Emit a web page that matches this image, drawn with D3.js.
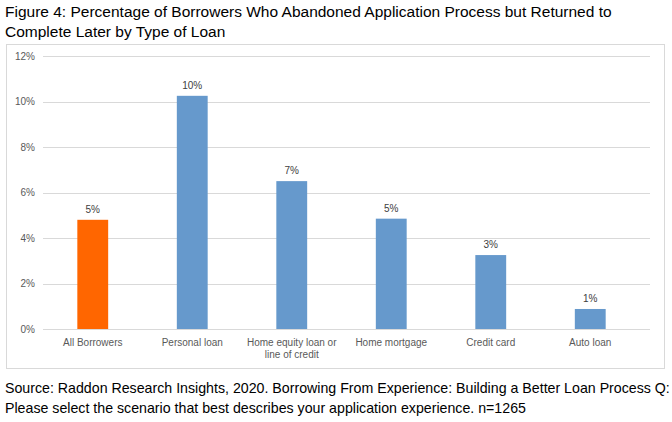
<!DOCTYPE html><html><head><script src="https://d3js.org/d3.v7.min.js"></script>
<style>body{margin:0;background:#fff}</style></head><body><svg id="c" width="672" height="422"></svg>
<script>
const categories=[["All Borrowers"],["Personal loan"],["Home equity loan or","line of credit"],["Home mortgage"],["Credit card"],["Auto loan"]];
const values=[4.8,10.25,6.5,4.85,3.25,0.88];
const labels=["5%","10%","7%","5%","3%","1%"];
const ticks=[0,2,4,6,8,10,12];
const svg=d3.select("#c");
const f="Arial, 'Liberation Sans', sans-serif";
svg.append("text").attr("x",5).attr("y",17).attr("font-family",f).attr("font-size",15.5).attr("fill","#000").text("Figure 4: Percentage of Borrowers Who Abandoned Application Process but Returned to");
svg.append("text").attr("x",5).attr("y",37).attr("font-family",f).attr("font-size",15.5).attr("fill","#000").text("Complete Later by Type of Loan");
svg.append("rect").attr("x",6.5).attr("y",44.5).attr("width",658).attr("height",324).attr("fill","none").attr("stroke","#d9d9d9");
const x=d3.scaleBand().domain(d3.range(6)).range([43,640]).paddingInner(0.69).paddingOuter(0.345);
const y=d3.scaleLinear().domain([0,12]).range([329,56]);
const g=svg.append("g");
ticks.forEach(t=>{g.append("line").attr("x1",43).attr("x2",650).attr("y1",Math.round(y(t))+0.5).attr("y2",Math.round(y(t))+0.5).attr("stroke","#d9d9d9");
g.append("text").attr("x",35).attr("y",y(t)+3.5).attr("text-anchor","end").attr("font-family",f).attr("font-size",10).attr("fill","#595959").text(t+"%");});
values.forEach((v,i)=>{
g.append("rect").attr("x",x(i)).attr("width",x.bandwidth()).attr("y",y(v)).attr("height",y(0)-y(v)).attr("fill",i==0?"#ff6600":"#6699cc");
g.append("text").attr("x",x(i)+x.bandwidth()/2).attr("y",y(v)-7).attr("text-anchor","middle").attr("font-family",f).attr("font-size",10).attr("fill","#404040").text(labels[i]);
categories[i].forEach((l,j)=>g.append("text").attr("x",x(i)+x.bandwidth()/2).attr("y",346+j*11.5).attr("text-anchor","middle").attr("font-family",f).attr("font-size",10).attr("fill","#595959").text(l));
});
svg.append("text").attr("x",5).attr("y",393).attr("font-family",f).attr("font-size",14.2).text("Source: Raddon Research Insights, 2020. Borrowing From Experience: Building a Better Loan Process Q:");
svg.append("text").attr("x",5).attr("y",413).attr("font-family",f).attr("font-size",14.2).text("Please select the scenario that best describes your application experience. n=1265");
</script></body></html>
